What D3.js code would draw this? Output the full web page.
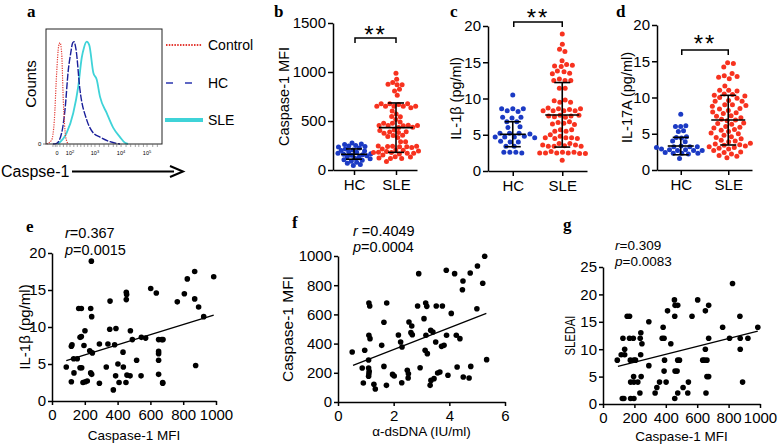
<!DOCTYPE html>
<html><head><meta charset="utf-8">
<script src="https://cdn.jsdelivr.net/npm/d3@7"></script>
<style>
body{margin:0;background:#fff;}
text{font-family:"Liberation Sans",Arial,sans-serif;fill:#000;}
.lt{font-family:"Liberation Serif","Times New Roman",serif;font-weight:bold;font-size:17px;}
</style></head>
<body><svg id="c" width="784" height="447"></svg>
<script>
// ---------- DATA ----------
const groups = ["HC", "SLE"];
// panel a: flow histograms (channel, % of max)
const histControl = [[6,0],[49,3.5],[72,21],[92,62],[109,85],[121,88],[135,79],[149,38],[170,6],[192,0]];
const histHC = [[60,0],[92,0.6],[135,9.6],[164,30],[192,64],[213,79],[230,88],[241,89],[259,82],[293,47],[351,21],[408,9.6],[466,6],[552,2],[638,0]];
const histSLE = [[103,0],[178,9.6],[235,27],[278,50],[308,75],[328,84],[351,89],[373,86],[408,62],[437,56],[466,41],[523,27],[580,14],[638,6],[681,1],[707,0]];
const histTickLabels = [["0",95,""],["10","207","2"],["10","422","3"],["10","647","4"],["10","871","5"]];
const histMinorTicks = [60,80,95,120,150,180,207,240,270,300,330,360,390,422,460,500,540,580,610,647,690,730,770,800,840,871,920,960];
const legendA = ["Control", "HC", "SLE"];

// panel b/c/d values
const bHC = [275,265,260,250,245,240,235,225,215,205,200,195,185,180,170,165,160,155,150,145,135,130,120,115,105,100,90,80,70,55,45];
const cHC = [10.5,8.6,8.6,8.6,8.3,8.2,7.4,7.4,7.3,6.8,6.8,6.1,6.0,5.2,5.2,5.1,5.2,4.7,4.7,4.6,4.7,4.8,4.0,4.0,4.1,3.4,3.4,2.6,2.6,2.5,2.6];
const dHC = [7.7,6.1,6.0,6.0,5.3,5.4,4.5,4.6,4.4,3.9,4.0,3.2,3.2,3.3,3.1,3.2,2.8,2.7,2.8,2.7,2.9,2.7,2.3,2.3,2.4,2.2,2.3,1.6];
const dSLE = [14.8,14.7,14.2,13.3,13.0,12.9,12.8,12.6,11.6,11.0,11.0,10.9,10.5,10.4,10.3,10.2,10.0,9.9,9.6,9.5,9.5,9.0,9.0,8.9,8.8,8.5,8.4,8.2,8.0,7.9,7.8,7.5,7.4,7.2,7.0,6.9,6.8,6.5,6.4,6.3,6.0,5.9,5.8,5.6,5.5,5.3,5.1,5.0,4.8,4.6,4.5,4.3,4.1,4.0,3.9,3.7,3.6,3.5,3.4,3.3,3.2,3.1,3.0,2.9,2.7,2.5,2.4,2.2,2.0,1.9,1.7];
// SLE patients: Caspase-1 MFI and IL-1beta (panel e pairs; also used in b and c)
const sleMFI = [240,870,986,825,602,636,807,453,455,453,764,354,870,163,179,236,894,242,925,201,352,390,478,171,179,490,545,571,650,669,677,118,122,289,341,382,195,230,246,433,650,650,650,132,154,516,87,171,181,331,402,435,876,134,236,242,388,457,476,543,650,118,189,203,215,289,409,451,675,675,374];
const sleIL1b = [18.9,17.5,16.8,16.5,15.2,14.6,14.5,14.7,14.4,13.7,13.4,13.5,13.8,12.5,12.5,12.5,12.7,11.4,11.4,9.5,9.7,9.8,9.5,8.6,8.7,8.3,8.6,8.5,8.3,8.3,8.3,7.4,7.6,7.7,7.7,7.6,7.5,6.8,6.5,6.6,6.7,6.4,5.5,5.7,5.7,5.5,4.6,4.5,4.5,4.6,5.0,4.6,4.8,3.8,3.8,3.6,3.4,3.5,3.4,3.4,3.6,2.6,2.5,2.6,2.7,2.4,2.5,2.5,2.5,2.4,1.5];
// mean and mean±SD [mean, lower, upper]
const bStats = [[160,110,215],[432,180,684]];
const cStats = [[5.06,3.35,6.8],[7.72,3.3,12.2]];
const dStats = [[3.31,2.1,4.5],[6.9,3.45,10.3]];

// panel f: anti-dsDNA vs Caspase-1 MFI
const fDNA = [5.27,3.89,4.19,4.75,5.01,2.90,4.49,4.47,5.20,1.11,1.14,1.75,2.86,3.15,3.19,3.53,3.75,4.99,4.07,1.65,2.55,2.65,3.09,2.17,1.11,1.15,2.62,2.67,2.25,2.30,3.16,3.33,3.41,3.90,4.25,4.38,3.51,3.72,3.81,1.57,0.51,0.96,3.13,3.21,1.10,5.34,0.87,1.10,1.12,1.11,1.10,1.65,1.96,2.02,2.49,2.53,2.52,2.95,3.58,3.66,3.95,4.28,4.50,4.71,4.77,0.91,1.29,1.34,1.74,2.29,3.31,3.34,3.45];
const fMFI = [998,902,879,884,932,879,829,769,813,678,658,678,658,678,655,658,658,639,607,546,548,521,571,459,457,434,475,461,411,377,457,491,479,457,457,434,411,381,388,388,342,354,354,331,288,290,233,233,210,194,176,244,189,178,217,194,164,235,199,205,183,240,171,164,244,130,121,89,114,132,114,148,160];
// panel g: Caspase-1 MFI vs SLEDAI
const gMFI = [825,455,459,476,603,673,411,652,154,169,457,567,872,292,383,762,986,241,127,169,193,237,377,389,673,806,874,923,248,432,138,652,874,116,138,240,91,174,197,207,392,476,487,635,646,662,292,389,459,472,195,243,662,673,176,197,222,360,402,544,889,343,510,235,332,476,540,656,123,133,176,197,457];
const gSLEDAI = [22,19,18,18,19,18,17,17,16,16,16,16,16,15,14,14,14,13,12,12,12,12,12,12,12,12,12,12,11,11,10,10,10,9,9,9,8,8,8,8,8,8,8,8,8,8,7,6,6,6,5,5,5,5,4,4,4,4,4,4,4,3,3,2,2,2,2,2,1,1,1,1,1];
// regression line endpoints and statistics
const fitE = [[87,5.45],[986,11.6]];
const fitF = [[0.54,251],[5.33,607]];
const fitG = [[95,6.85],[986,13.3]];
const statE = ["0.367","0.0015"], statF = ["0.4049","0.0004"], statG = ["0.309","0.0083"];

// ---------- DRAW ----------
const svg = d3.select("#c");
svg.append("rect").attr("width",784).attr("height",447).attr("fill","#fff");
const BLUE="#1b3ac4", RED="#f7321f";
const fmt = d => String(d);
const TFS = 15;

function letter(t,x,y){svg.append("text").attr("class","lt").attr("x",x).attr("y",y).text(t);}
function styleAxis(g,fs){
  g.selectAll("path.domain").attr("stroke","#000").attr("stroke-width",1.5);
  g.selectAll(".tick line").attr("stroke","#000").attr("stroke-width",1.5);
  g.selectAll(".tick text").attr("font-size",fs).attr("font-family","Liberation Sans, Arial, sans-serif").attr("fill","#000");
}

// ---- panel a ----
letter("a",27,17);
const ax = d3.scaleLinear().domain([0,1000]).range([46,162]);
const ay = d3.scaleLinear().domain([0,100]).range([144,29]);
const hl = d3.line().x(d=>ax(d[0])).y(d=>ay(d[1])).curve(d3.curveMonotoneX);
svg.append("path").attr("d",hl(histSLE)).attr("fill","none").attr("stroke","#3fd3d8").attr("stroke-width",1.8);
svg.append("path").attr("d",hl(histHC)).attr("fill","none").attr("stroke","#1a1f9a").attr("stroke-width",1.4).attr("stroke-dasharray","7,1.5");
svg.append("path").attr("d",hl(histControl)).attr("fill","none").attr("stroke","#e33a33").attr("stroke-width",1.2).attr("stroke-dasharray","1.2,1.2");
svg.append("rect").attr("x",46).attr("y",29).attr("width",116).attr("height",115).attr("fill","none").attr("stroke","#222").attr("stroke-width",1);
svg.selectAll(".mt").data(histMinorTicks).enter().append("line")
  .attr("x1",d=>ax(d)).attr("x2",d=>ax(d)).attr("y1",144).attr("y2",147).attr("stroke","#666").attr("stroke-width",0.6);
svg.append("line").attr("x1",43).attr("x2",46).attr("y1",144).attr("y2",144).attr("stroke","#444").attr("stroke-width",0.7);
svg.append("text").attr("x",38).attr("y",146).attr("font-size",6).text("0");
histTickLabels.forEach(t=>{
  const tx = svg.append("text").attr("x",ax(+t[1])).attr("y",155).attr("font-size",5.5).attr("text-anchor","middle").attr("fill","#333");
  tx.append("tspan").text(t[0]);
  if(t[2]) tx.append("tspan").attr("font-size",4).attr("dy",-2.5).text(t[2]);
});
svg.append("text").attr("transform","translate(36,84) rotate(-90)").attr("text-anchor","middle").attr("font-size",15).text("Counts");
svg.append("text").attr("x",1).attr("y",177).attr("font-size",16).text("Caspse-1");
svg.append("line").attr("x1",72).attr("x2",174).attr("y1",171.5).attr("y2",171.5).attr("stroke","#000").attr("stroke-width",2);
svg.append("path").attr("d","M170,166 L183,171.5 L170,177").attr("fill","none").attr("stroke","#000").attr("stroke-width",2);
// legend
const legY=[45,83,120];
svg.append("line").attr("x1",166).attr("x2",202).attr("y1",legY[0]).attr("y2",legY[0]).attr("stroke","#e33a33").attr("stroke-width",2).attr("stroke-dasharray","1.5,1.3");
svg.append("line").attr("x1",166).attr("x2",204).attr("y1",legY[1]).attr("y2",legY[1]).attr("stroke","#2b36b0").attr("stroke-width",1.4).attr("stroke-dasharray","7,12");
svg.append("line").attr("x1",165).attr("x2",203).attr("y1",legY[2]).attr("y2",legY[2]).attr("stroke","#3fd3d8").attr("stroke-width",4);
legendA.forEach((t,i)=>svg.append("text").attr("x",208).attr("y",legY[i]+5).attr("font-size",14).text(t));

// ---- dot plots ----
function swarm(vals, cx, ys, r){
  const nodes = vals.map((v,i)=>({x: cx + (i%2?1:-1)*((i*7)%9)*0.5, y: ys(v), fy: ys(v)}));
  const sim = d3.forceSimulation(nodes).force("x", d3.forceX(cx).strength(0.06)).force("c", d3.forceCollide(r).iterations(3)).stop();
  for(let i=0;i<300;i++) sim.tick();
  return nodes;
}
function dotPanel(o){
  const y = d3.scaleLinear().domain(o.domain).range([o.y0,o.y1]);
  const x = d3.scalePoint().domain(groups).range([o.ax,o.xEnd]).padding(0.5);
  const gy = svg.append("g").attr("transform",`translate(${o.ax},0)`).call(d3.axisLeft(y).tickValues(o.ticks).tickFormat(fmt).tickSize(5).tickSizeOuter(0).tickPadding(2));
  styleAxis(gy,TFS);
  const gx = svg.append("g").attr("transform",`translate(0,${o.y0})`).call(d3.axisBottom(x).tickSize(5).tickSizeOuter(0).tickPadding(4));
  styleAxis(gx,TFS);
  [o.hc,o.sle].forEach((vals,gi)=>{
    const nodes = swarm(vals, x(groups[gi]), y, o.cr[gi]);
    svg.append("g").selectAll("circle").data(nodes).enter().append("circle")
      .attr("cx",d=>d.x).attr("cy",d=>d.y).attr("r",2.5).attr("fill",gi?RED:BLUE);
  });
  o.stats.forEach((s,gi)=>{
    const cx=x(groups[gi]), hw=gi?17:13, cw=8;
    const g=svg.append("g").attr("stroke","#000").attr("stroke-width",1.6);
    g.append("line").attr("x1",cx-hw).attr("x2",cx+hw).attr("y1",y(s[0])).attr("y2",y(s[0]));
    g.append("line").attr("x1",cx).attr("x2",cx).attr("y1",y(s[1])).attr("y2",y(s[2]));
    g.append("line").attr("x1",cx-cw).attr("x2",cx+cw).attr("y1",y(s[1])).attr("y2",y(s[1]));
    g.append("line").attr("x1",cx-cw).attr("x2",cx+cw).attr("y1",y(s[2])).attr("y2",y(s[2]));
  });
  const x1=x("HC")+1, x2=x("SLE");
  svg.append("path").attr("d",`M${x1},${o.by+5}V${o.by}H${x2}V${o.by+5}`).attr("fill","none").attr("stroke","#000").attr("stroke-width",1.5);
  svg.append("text").attr("x",(x1+x2)/2).attr("y",o.sy+13).attr("text-anchor","middle").attr("font-size",24).attr("letter-spacing",2).text("**");
  svg.append("text").attr("transform",`translate(${o.tx},${(o.y0+o.y1)/2}) rotate(-90)`).attr("text-anchor","middle").attr("font-size",14.5).text(o.title);
}
letter("b",274,17);
dotPanel({ax:333,xEnd:417,y0:170,y1:23,domain:[0,1500],ticks:[0,500,1000,1500],hc:bHC,sle:sleMFI,stats:bStats,by:38,sy:30,tx:289,title:"Caspase-1 MFI",cr:[2.2,2.5]});
letter("c",450,17);
dotPanel({ax:488,xEnd:587,y0:171,y1:26,domain:[0,20],ticks:[0,5,10,15,20],hc:cHC,sle:sleIL1b,stats:cStats,by:22,sy:13,tx:461,title:"IL-1β (pg/ml)",cr:[3.0,2.9]});
letter("d",616,17);
dotPanel({ax:657,xEnd:752,y0:170,y1:25,domain:[0,20],ticks:[0,5,10,15,20],hc:dHC,sle:dSLE,stats:dStats,by:50,sy:39,tx:632,title:"IL-17A (pg/ml)",cr:[2.6,2.9]});

// ---- scatter plots ----
function scatter(o){
  const x = d3.scaleLinear().domain(o.xd).range([o.x0,o.x1]);
  const y = d3.scaleLinear().domain(o.yd).range([o.y0,o.y1]);
  const gy = svg.append("g").attr("transform",`translate(${o.x0},0)`).call(d3.axisLeft(y).tickValues(o.yt).tickFormat(fmt).tickSize(4).tickSizeOuter(0).tickPadding(2));
  styleAxis(gy,TFS);
  const gx = svg.append("g").attr("transform",`translate(0,${o.y0})`).call(d3.axisBottom(x).tickValues(o.xt).tickFormat(fmt).tickSize(4).tickSizeOuter(0).tickPadding(4));
  styleAxis(gx,TFS);
  svg.append("g").selectAll("circle").data(o.xs).enter().append("circle")
    .attr("cx",d=>x(d)).attr("cy",(d,i)=>y(o.ys[i])).attr("r",2.8).attr("fill","#000");
  svg.append("line").attr("x1",x(o.fit[0][0])).attr("y1",y(o.fit[0][1])).attr("x2",x(o.fit[1][0])).attr("y2",y(o.fit[1][1])).attr("stroke","#000").attr("stroke-width",1.3);
  const t1=svg.append("text").attr("x",o.sx).attr("y",o.sy).attr("font-size",o.sfs);
  t1.append("tspan").attr("font-style","italic").text(o.rsp?"r ":"r"); t1.append("tspan").text("="+o.stat[0]);
  const t2=svg.append("text").attr("x",o.sx).attr("y",o.sy+o.sdy).attr("font-size",o.sfs);
  t2.append("tspan").attr("font-style","italic").text("p"); t2.append("tspan").text("="+o.stat[1]);
  svg.append("text").attr("x",(o.x0+o.x1)/2).attr("y",o.xty).attr("text-anchor","middle").attr("font-size",13.5).text(o.xtitle);
  const yt = svg.append("text").attr("transform",`translate(${o.ytx},${(o.y0+o.y1)/2}) rotate(-90)`).attr("text-anchor","middle").attr("font-size",o.ytfs||14.5).text(o.ytitle);
  if(o.ytlen) yt.attr("textLength",o.ytlen).attr("lengthAdjust","spacingAndGlyphs");
}
letter("e",26,232);
scatter({x0:52,x1:216,y0:401,y1:253,xd:[0,1000],yd:[0,20],xt:[0,200,400,600,800,1000],yt:[0,5,10,15,20],xs:sleMFI,ys:sleIL1b,fit:fitE,stat:statE,sx:65,sy:238,sdy:16.5,sfs:14.5,xty:440,ytx:30,xtitle:"Caspase-1 MFI",ytitle:"IL-1β (pg/ml)",ytfs:15});
letter("f",292,228);
scatter({x0:338,x1:505,y0:402,y1:256,xd:[0,6],yd:[0,1000],xt:[0,2,4,6],yt:[0,200,400,600,800,1000],xs:fDNA,ys:fMFI,fit:fitF,stat:statF,sx:353,sy:235.5,sdy:16.5,sfs:14.5,xty:436,ytx:293,xtitle:"α-dsDNA (IU/ml)",ytitle:"Caspase-1 MFI",ytfs:15.5,rsp:true});
letter("g",563,230);
scatter({x0:603,x1:760,y0:404,y1:267,xd:[0,1000],yd:[0,25],xt:[0,200,400,600,800,1000],yt:[0,5,10,15,20,25],xs:gMFI,ys:gSLEDAI,fit:fitG,stat:statG,sx:615,sy:250,sdy:15.5,sfs:13.5,xty:441,ytx:575,xtitle:"Caspase-1 MFI",ytitle:"SLEDAI",ytfs:14,ytlen:40});
</script></body></html>
